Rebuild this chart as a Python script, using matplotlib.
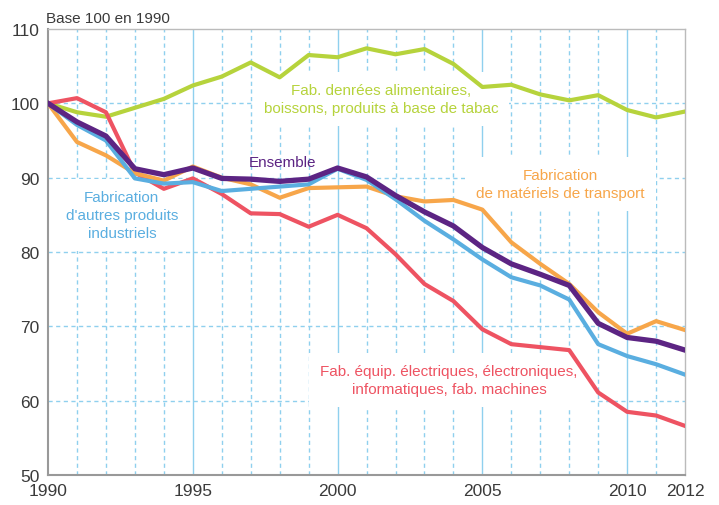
import matplotlib
matplotlib.use("Agg")
import matplotlib.pyplot as plt

plt.rcParams['font.family'] = ['Liberation Sans', 'DejaVu Sans']

years = list(range(1990, 2013))

# indices, base 100 en 1990
alim = [100, 98.8, 98.2, 99.4, 100.6, 102.4, 103.6, 105.5, 103.5, 106.5, 106.2, 107.4,
        106.6, 107.3, 105.3, 102.2, 102.5, 101.2, 100.4, 101.1, 99.1, 98.1, 98.9]
ensemble = [100, 97.5, 95.6, 91.2, 90.4, 91.3, 89.9, 89.8, 89.5, 89.8, 91.3, 90.1,
            87.6, 85.4, 83.5, 80.6, 78.4, 77.0, 75.5, 70.4, 68.5, 68.0, 66.8]
autres = [100, 97.1, 95.0, 89.9, 89.2, 89.4, 88.2, 88.5, 88.8, 89.1, 91.2, 89.7,
          87.1, 84.2, 81.7, 79.0, 76.6, 75.5, 73.6, 67.6, 66.0, 64.9, 63.5]
transport = [100, 94.8, 93.0, 90.6, 89.6, 91.5, 90.0, 89.1, 87.3, 88.6, 88.7, 88.8,
             87.5, 86.8, 87.0, 85.7, 81.3, 78.4, 75.7, 71.9, 69.0, 70.7, 69.5]
equip = [100, 100.7, 98.8, 90.7, 88.5, 89.9, 87.8, 85.2, 85.1, 83.4, 85.0, 83.2,
         79.7, 75.7, 73.4, 69.6, 67.6, 67.2, 66.8, 61.1, 58.5, 58.0, 56.6]

c_alim = '#b6d33c'
c_ens = '#5c2483'
c_autres = '#5aaee0'
c_trans = '#f7a64a'
c_equip = '#ee5362'
c_grid = '#8fd0ee'
c_txt = '#3a3a3a'

fig = plt.figure(figsize=(7.19, 5.06), dpi=100)
ax = fig.add_axes([0.0668, 0.0593, 0.886, 0.8814])

# grille
for y in range(60, 110, 10):
    ax.axhline(y, color=c_grid, lw=1, ls=(0, (3, 2.5)), zorder=0)
for yr in range(1991, 2012):
    if yr % 5 == 0:
        ax.axvline(yr, color=c_grid, lw=1, zorder=0)
    else:
        ax.axvline(yr, color=c_grid, lw=1, ls=(0, (3, 2.5)), zorder=0)

ax.plot(years, alim, color=c_alim, lw=3, zorder=3)
ax.plot(years, equip, color=c_equip, lw=3, zorder=3)
ax.plot(years, transport, color=c_trans, lw=3, zorder=3)
ax.plot(years, autres, color=c_autres, lw=3, zorder=4)
ax.plot(years, ensemble, color=c_ens, lw=3.8, zorder=5)

box = dict(facecolor='white', edgecolor='none', pad=8)
fs = 11
ax.text(2001.5, 100.6, "Fab. denrées alimentaires,\nboissons, produits à base de tabac",
        color=c_alim, fontsize=fs, ha='center', va='center', linespacing=1.35, bbox=box, zorder=2)
ax.text(1998.1, 92.1, "Ensemble", color=c_ens, fontsize=fs, ha='center', va='center', zorder=2)
ax.text(1992.55, 85.0, "Fabrication\nd'autres produits\nindustriels",
        color=c_autres, fontsize=fs, ha='center', va='center', linespacing=1.35, bbox=box, zorder=2)
ax.text(2007.7, 89.1, "Fabrication\nde matériels de transport",
        color=c_trans, fontsize=fs, ha='center', va='center', linespacing=1.35, bbox=box, zorder=2)
ax.text(2003.85, 62.8, "Fab. équip. électriques, électroniques,\ninformatiques, fab. machines",
        color=c_equip, fontsize=fs, ha='center', va='center', linespacing=1.35, bbox=box, zorder=2)

ax.set_xlim(1990, 2012)
ax.set_ylim(50, 110)
ax.set_xticks([1990, 1995, 2000, 2005, 2010, 2012])
ax.set_yticks(range(50, 111, 10))
ax.tick_params(length=0, labelsize=12.5, colors=c_txt, pad=6)
for s in ['left', 'bottom']:
    ax.spines[s].set_color('#999999')
    ax.spines[s].set_linewidth(1.5)
for s in ['top', 'right']:
    ax.spines[s].set_color('#bbbbbb')
    ax.spines[s].set_linewidth(1)

fig.text(0.064, 0.963, "Base 100 en 1990", fontsize=11, color=c_txt, ha='left', va='center')

fig.savefig("out.png", dpi=100)
